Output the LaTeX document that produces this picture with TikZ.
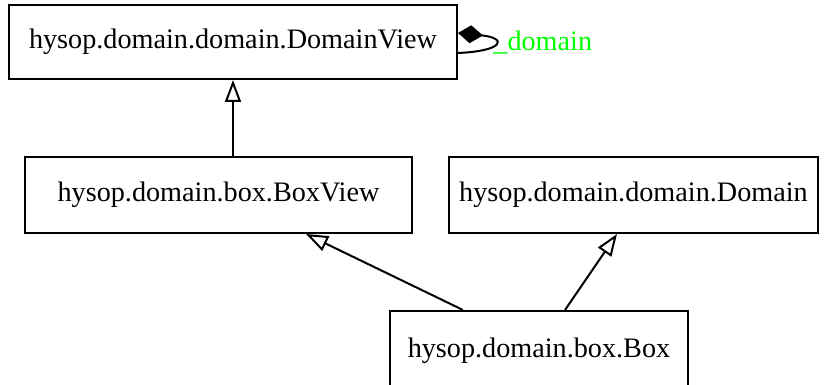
\documentclass[tikz,border=0pt]{standalone}
\usepackage{fontspec}
\setmainfont{Liberation Serif}
\usetikzlibrary{arrows.meta}
\definecolor{lblgreen}{RGB}{0,255,0}
\begin{document}
\begin{tikzpicture}[x=0.5pt,y=-0.5pt,
  cls/.style={draw,line width=1pt,rectangle,inner sep=0pt,font=\fontsize{14.1}{17}\selectfont},
  inh/.style={line width=1pt,-{Triangle[open,length=11pt,width=8pt,line width=1pt]}},
  comp/.style={line width=1pt,{Diamond[length=12.5pt,width=9pt,fill=black]}-}]
\useasboundingbox (0,0) rectangle (825,385);
\node[cls,minimum width=224pt,minimum height=37pt] (dv) at (233,42) {hysop.domain.domain.DomainView};
\node[cls,minimum width=193.5pt,minimum height=38pt] (bv) at (218.5,195) {hysop.domain.box.BoxView};
\node[cls,minimum width=184.5pt,minimum height=38pt] (dom) at (633.5,195) {hysop.domain.domain.Domain};
\node[cls,minimum width=149pt,minimum height=40pt] (box) at (539,351) {hysop.domain.box.Box};
\draw[inh] (bv.north -| dv.south) -- (dv.south);
\draw[inh] ([xshift=-38pt]box.north) -- ([xshift=43.75pt]bv.south);
\draw[inh] ([xshift=13pt]box.north) -- ([xshift=-8.25pt]dom.south);
\coordinate (ls) at ([yshift=4.5pt]dv.east);
\coordinate (le) at ([yshift=-5.5pt]dv.east);
\draw[comp] (ls) .. controls +(50,5) and +(46,-2) .. (le);
\node[anchor=west,inner sep=0pt,text=lblgreen,font=\fontsize{14.1}{17}\selectfont] (lbl) at (493,43) {\_domain};
\end{tikzpicture}
\end{document}
